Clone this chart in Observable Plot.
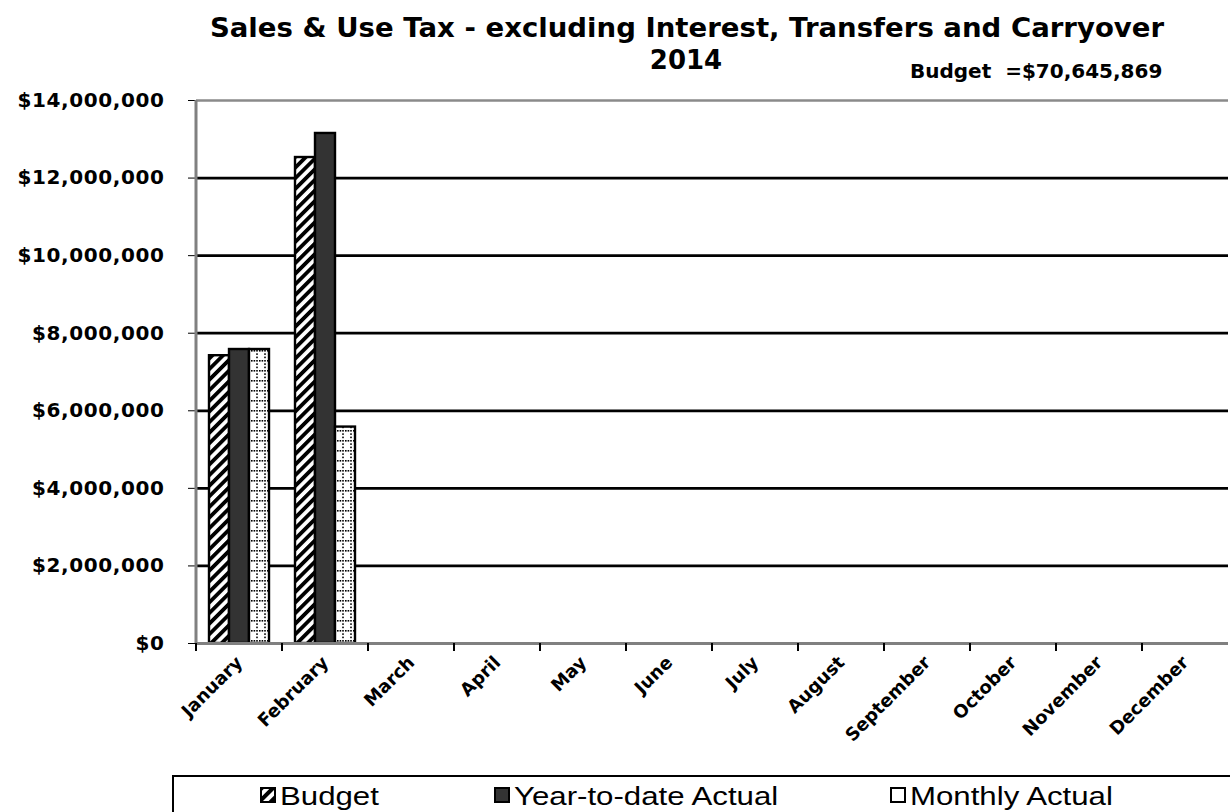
<!DOCTYPE html>
<html><head><meta charset="utf-8">
<script src="https://cdn.jsdelivr.net/npm/d3@7"></script>
<script src="https://cdn.jsdelivr.net/npm/@observablehq/plot@0.6"></script>
<style>
body{margin:0;background:#fff;width:1230px;height:812px;overflow:hidden;position:relative;font-family:"DejaVu Sans",sans-serif;color:#000}
#chart{position:absolute;left:0;top:0}
.ttl{position:absolute;font-weight:bold;white-space:nowrap;line-height:1;font-family:"DejaVu Sans",sans-serif}
#t1{left:687px;top:15px;font-size:26px;transform:translateX(-50%) scaleX(1.06)}
#t2{left:686px;top:47px;font-size:26px;transform:translateX(-50%)}
#t3{left:910px;top:61px;font-size:20px}
#legend{position:absolute;left:172px;top:775px;width:1070px;height:60px;border:2px solid #000;box-sizing:border-box}
.li{position:absolute;top:6px;font-family:"Liberation Sans",Arial,sans-serif;font-size:26px;line-height:1;white-space:nowrap;transform-origin:left center;transform:scaleX(1.2)}
.ic{position:absolute;top:10px}
</style></head><body>
<div id="chart"></div>
<div id="t1" class="ttl">Sales &amp; Use Tax - excluding Interest, Transfers and Carryover</div>
<div id="t2" class="ttl">2014</div>
<div id="t3" class="ttl">Budget&nbsp; =$70,645,869</div>
<div id="legend"></div>
<script>
const months = ["January","February","March","April","May","June","July","August","September","October","November","December"];
const series = ["Budget","Year-to-date Actual","Monthly Actual"];
const budget = [7420000, 12530000, null, null, null, null, null, null, null, null, null, null];
const ytdActual = [7580000, 13150000, null, null, null, null, null, null, null, null, null, null];
const monthlyActual = [7580000, 5580000, null, null, null, null, null, null, null, null, null, null];
const yTicks = [0, 2000000, 4000000, 6000000, 8000000, 10000000, 12000000, 14000000];
const gridTicks = [2000000, 4000000, 6000000, 8000000, 10000000, 12000000];
const seriesFills = ["url(#hatch)", "#333333", "url(#dots)"];

const seriesValues = [budget, ytdActual, monthlyActual];
const rows = [];
months.forEach((m, i) => series.forEach((s, j) => {
  rows.push({month: m, series: s, value: seriesValues[j][i]});
}));

const chart = Plot.plot({
  width: 1230, height: 775,
  marginTop: 100, marginBottom: 132, marginLeft: 193, marginRight: 0,
  style: {fontFamily: "DejaVu Sans, sans-serif", fontWeight: "bold", fontSize: "18px", color: "#000", background: "transparent"},
  fx: {domain: months, padding: 0, label: null, axis: "bottom", tickRotate: -45, tickSize: 0, tickPadding: 16},
  x: {domain: series, paddingInner: 0, paddingOuter: 0.65, axis: null},
  y: {domain: [0, 14000000], ticks: yTicks, tickFormat: d => "$" + d3.format(",")(d), tickSize: 8, tickPadding: 24, label: null},
  color: {domain: series, range: seriesFills},
  marks: [
    Plot.ruleY(gridTicks, {stroke: "#000", strokeWidth: 2.8}),
    Plot.ruleY([14000000], {stroke: "#8a8a8a", strokeWidth: 2.5}),
    Plot.barY(rows, {fx: "month", x: "series", y: "value", fill: "series", stroke: "#000", strokeWidth: 2.4}),
    Plot.ruleY([0], {stroke: "#808080", strokeWidth: 3})
  ]
});
document.getElementById("chart").appendChild(chart);

const svg = d3.select(chart);
svg.insert("defs", ":first-child").html(`
  <pattern id="hatch" patternUnits="userSpaceOnUse" width="7.5" height="7.5" patternTransform="rotate(45)">
    <rect width="7.5" height="7.5" fill="#fff"/><rect width="3.8" height="7.5" fill="#000"/>
  </pattern>
  <pattern id="dots" patternUnits="userSpaceOnUse" width="8" height="10">
    <rect width="8" height="10" fill="#fff"/>
    <rect x="0" y="0" width="1.6" height="1.6" fill="#000"/><rect x="2.6" y="0" width="1.6" height="1.6" fill="#000"/>
    <rect x="5.2" y="0" width="1.6" height="1.6" fill="#000"/>
    <rect x="5.2" y="3.3" width="1.6" height="1.6" fill="#000"/><rect x="5.2" y="6.6" width="1.6" height="1.6" fill="#000"/>
  </pattern>`);

// y-axis label size / spacing
svg.selectAll("g[aria-label='y-axis tick label']").attr("font-size", 20);
svg.selectAll("g[aria-label='y-axis tick label'] text").style("letter-spacing", "0.6px");

// axis line & boundary ticks from the library's scales
const fxs = chart.scale("fx"), ys = chart.scale("y");
const y0 = ys.apply(0), yTop = ys.apply(14000000);
const g = svg.append("g").attr("stroke", "#000");
g.append("line").attr("x1", fxs.apply(months[0])).attr("x2", fxs.apply(months[0]))
  .attr("y1", yTop).attr("y2", y0).attr("stroke", "#808080").attr("stroke-width", 3);
months.forEach(m => {
  const x = fxs.apply(m);
  g.append("line").attr("x1", x).attr("x2", x).attr("y1", y0).attr("y2", y0 + 8).attr("stroke-width", 2);
});

// legend
const legend = document.getElementById("legend");
const items = [
  {label: series[0], fill: "url(#lhatch)", ix: 86, tx: 106},
  {label: series[1], fill: "#333333", ix: 320, tx: 340},
  {label: series[2], fill: "#fff", ix: 716, tx: 736}
];
items.forEach(it => {
  legend.insertAdjacentHTML("beforeend",
    `<svg class="ic" style="left:${it.ix}px" width="16" height="16"><defs><pattern id="lhatch" patternUnits="userSpaceOnUse" width="8" height="8" patternTransform="rotate(45)"><rect width="8" height="8" fill="#fff"/><rect width="4" height="8" fill="#000"/></pattern></defs><rect x="1" y="1" width="14" height="14" fill="${it.fill}" stroke="#000" stroke-width="2"/></svg><div class="li" style="left:${it.tx}px">${it.label}</div>`);
});
</script>
</body></html>
